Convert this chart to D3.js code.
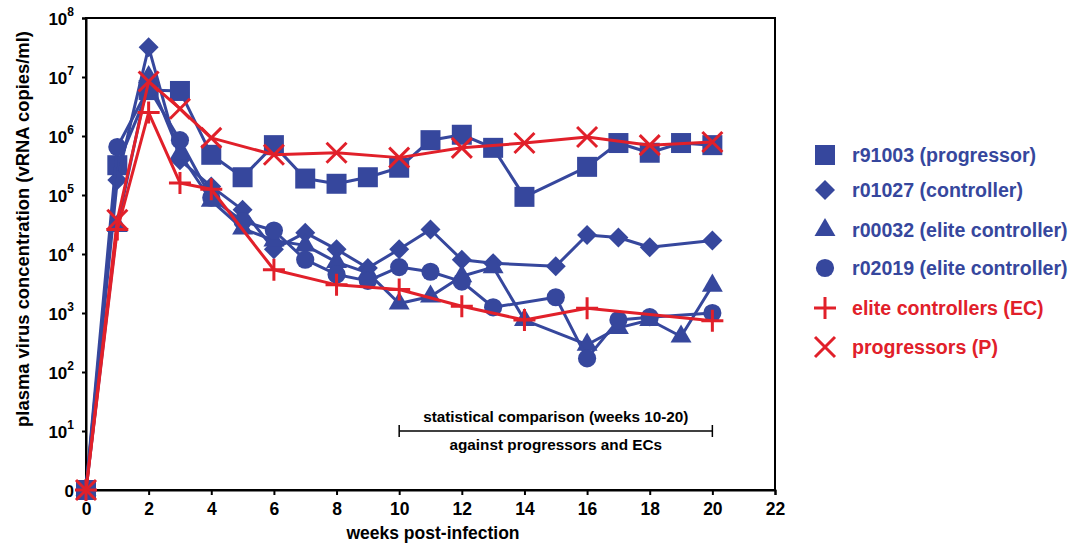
<!DOCTYPE html>
<html>
<head>
<meta charset="utf-8">
<script src="https://cdn.jsdelivr.net/npm/d3@7"></script>
<style>
  body { margin: 0; background: #fff; }
  svg { font-family: "Liberation Sans", Arial, Helvetica, sans-serif; font-weight: bold; }
</style>
</head>
<body>
<svg id="chart"></svg>
<script>
// data (weeks, vRNA copies/ml; 0 plotted as 1)
var sqWeeks = [0,1,2,3,4,5,6,7,8,9,10,11,12,13,14,16,17,18,19,20];
var sqVals  = [1,3.2e5,6e6,5.8e6,4.8e5,2e5,7e5,1.9e5,1.55e5,2e5,2.9e5,8.5e5,1.05e6,6.3e5,9.3e4,3e5,7.6e5,5.2e5,7.6e5,7e5];

var diWeeks = [0,1,2,3,4,5,6,7,8,9,10,11,12,13,15,16,17,18,20];
var diVals  = [1,1.8e5,3.2e7,3.9e5,1.4e5,5.6e4,1.2e4,2.3e4,1.2e4,5.8e3,1.2e4,2.6e4,8e3,7e3,6.2e3,2.1e4,1.9e4,1.3e4,1.7e4];

var trWeeks = [0,1,2,3,4,5,6,7,8,9,10,11,12,13,14,16,17,18,19,20];
var trVals  = [1,3e4,1e7,5e5,8e4,2.7e4,1.7e4,1.4e4,7.3e3,4.8e3,1.45e3,1.9e3,4.2e3,6e3,760,290,560,760,400,2.9e3];

var ciWeeks = [0,1,2,3,4,5,6,7,8,9,10,11,12,13,15,16,17,18,20];
var ciVals  = [1,6.5e5,6.5e6,8.5e5,9e4,3.6e4,2.5e4,8e3,4.5e3,3.5e3,6e3,5e3,3.4e3,1.25e3,1.85e3,170,760,850,1e3];

var ecWeeks = [0,1,2,3,4,6,8,10,12,14,16,20];
var ecVals  = [1,2.6e4,2.5e6,1.6e5,1.25e5,5.4e3,3e3,2.5e3,1.3e3,760,1.2e3,740];

var pWeeks = [0,1,2,3,4,6,8,10,12,14,16,18,20];
var pVals  = [1,3.8e4,8.4e6,2.9e6,9.3e5,4.8e5,5.2e5,4.3e5,6.3e5,7.6e5,9.6e5,7e5,7.9e5];

var seriesNames = ["r91003 (progressor)", "r01027 (controller)", "r00032 (elite controller)",
                   "r02019 (elite controller)", "elite controllers (EC)", "progressors (P)"];
var xTicks = d3.range(0, 23, 2);
var yTicks = [1, 10, 100, 1e3, 1e4, 1e5, 1e6, 1e7, 1e8];
var compWeeks = [10, 20];

var blue = "#36479d", red = "#e1202a";

var svg = d3.select("#chart").attr("width", 1072).attr("height", 544);

var x = d3.scaleLinear().domain([0, 22]).range([86, 775]);
var y = d3.scaleLog().domain([1, 1e8]).range([490, 18]);

// frame
svg.append("rect")
  .attr("x", 86).attr("y", 18)
  .attr("width", 775 - 86).attr("height", 490 - 18)
  .attr("fill", "none").attr("stroke", "#000").attr("stroke-width", 2);

// axes
var xAxis = svg.append("g")
  .attr("transform", "translate(0,490)")
  .call(d3.axisBottom(x).tickValues(xTicks).tickSize(5).tickPadding(8).tickFormat(d3.format("d")));
xAxis.select(".domain").attr("stroke-width", 2);
xAxis.selectAll(".tick line").attr("stroke-width", 2);
xAxis.selectAll("text").attr("font-size", 17.5).attr("font-weight", "bold").attr("font-family", null);

var yAxis = svg.append("g")
  .attr("transform", "translate(86,0)")
  .call(d3.axisLeft(y).tickValues(yTicks).tickSize(4).tickPadding(8).tickFormat(function() { return ""; }));
yAxis.select(".domain").attr("stroke-width", 2);
yAxis.selectAll(".tick line").attr("stroke-width", 2);
yAxis.selectAll(".tick text")
  .attr("font-size", 17).attr("font-weight", "bold").attr("font-family", null)
  .attr("dy", "0.38em")
  .each(function(d) {
    var t = d3.select(this);
    var p = Math.round(Math.log10(d));
    if (p === 0) { t.text("0"); return; }
    t.append("tspan").text("10");
    t.append("tspan").attr("font-size", 12).attr("dy", "-0.75em").text(p);
  });

// axis titles
svg.append("text")
  .attr("x", 433).attr("y", 539)
  .attr("text-anchor", "middle").attr("font-size", 17.5)
  .text("weeks post-infection");

svg.append("text")
  .attr("transform", "translate(29,229) rotate(-90)")
  .attr("text-anchor", "middle").attr("font-size", 18.4)
  .text("plasma virus concentration (vRNA copies/ml)");

// comparison bracket
var by = 431;
svg.append("line").attr("x1", x(compWeeks[0])).attr("x2", x(compWeeks[1]))
  .attr("y1", by).attr("y2", by).attr("stroke", "#000").attr("stroke-width", 1.5);
compWeeks.forEach(function(w) {
  svg.append("line").attr("x1", x(w)).attr("x2", x(w))
    .attr("y1", by - 6).attr("y2", by + 6).attr("stroke", "#000").attr("stroke-width", 1.5);
});
svg.append("text").attr("x", d3.mean(compWeeks, x)).attr("y", by - 9)
  .attr("text-anchor", "middle").attr("font-size", 15.3)
  .text("statistical comparison (weeks 10-20)");
svg.append("text").attr("x", d3.mean(compWeeks, x)).attr("y", by + 19)
  .attr("text-anchor", "middle").attr("font-size", 15.3)
  .text("against progressors and ECs");

// marker shapes
var plusPath = "M-11,0H11M0,-11V11";
var crossPath = "M-10,-10L10,10M-10,10L10,-10";
function marker(sel, kind, color) {
  if (kind === "plus" || kind === "cross") {
    sel.attr("d", kind === "plus" ? plusPath : crossPath)
      .attr("fill", "none").attr("stroke", color).attr("stroke-width", 3);
  } else {
    var sym = { square: d3.symbolSquare, diamond: d3.symbolSquare,
                triangle: d3.symbolTriangle, circle: d3.symbolCircle }[kind];
    var size = { square: 400, diamond: 200, triangle: 190, circle: 260 }[kind];
    sel.attr("d", d3.symbol(sym, size)()).attr("fill", color);
  }
}

var series = [
  { name: seriesNames[0], weeks: sqWeeks, vals: sqVals, kind: "square", color: blue },
  { name: seriesNames[1], weeks: diWeeks, vals: diVals, kind: "diamond", color: blue },
  { name: seriesNames[2], weeks: trWeeks, vals: trVals, kind: "triangle", color: blue },
  { name: seriesNames[3], weeks: ciWeeks, vals: ciVals, kind: "circle", color: blue },
  { name: seriesNames[4], weeks: ecWeeks, vals: ecVals, kind: "plus", color: red },
  { name: seriesNames[5], weeks: pWeeks, vals: pVals, kind: "cross", color: red }
];

var line = d3.line().x(function(d) { return x(d[0]); }).y(function(d) { return y(d[1]); });

series.forEach(function(s) {
  var pts = d3.zip(s.weeks, s.vals);
  var g = svg.append("g");
  g.append("path").datum(pts).attr("d", line)
    .attr("fill", "none").attr("stroke", s.color).attr("stroke-width", 3)
    .attr("stroke-linejoin", "round");
  g.selectAll("path.m").data(pts).enter().append("path").attr("class", "m")
    .call(marker, s.kind, s.color)
    .attr("transform", function(d) {
      return "translate(" + x(d[0]) + "," + y(d[1]) + ")" + (s.kind === "diamond" ? "rotate(45)" : "");
    });
});

// legend
var legendY = [155, 190, 230, 268, 308, 347];
var leg = svg.selectAll("g.leg").data(series).enter().append("g").attr("class", "leg")
  .attr("transform", function(d, i) { return "translate(825," + legendY[i] + ")"; });
leg.append("path").each(function(d) {
  d3.select(this).call(marker, d.kind, d.color)
    .attr("transform", d.kind === "diamond" ? "rotate(45)" : null);
});
leg.append("text").attr("x", 27).attr("dy", "0.36em").attr("font-size", 19.6)
  .attr("fill", function(d) { return d.color; })
  .text(function(d) { return d.name; });
</script>
</body>
</html>
